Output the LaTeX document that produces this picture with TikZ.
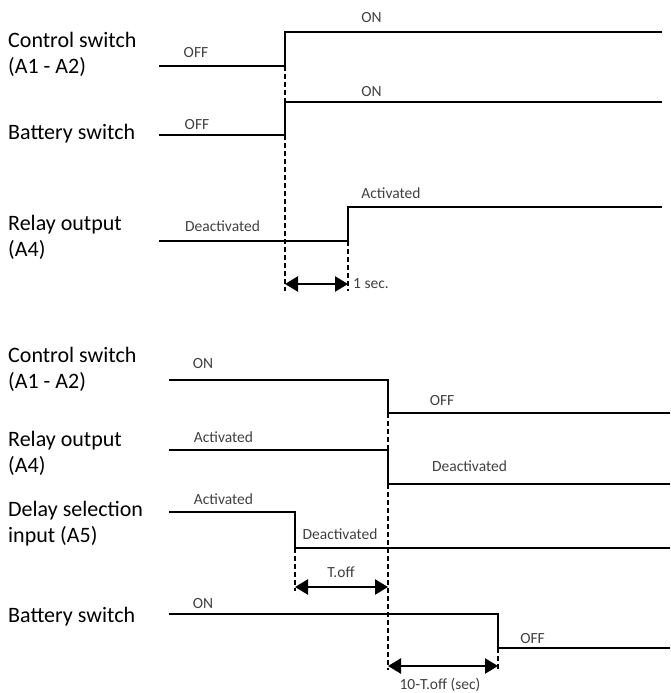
\documentclass[tikz,border=0pt]{standalone}
\usepackage{fontspec}
\setmainfont{Carlito}
\usetikzlibrary{arrows.meta}

\tikzset{
	wave/.style={line width=2.8pt},
	guide/.style={line width=1.6pt,dash pattern=on 5pt off 3pt},
	span/.style={line width=2.4pt,{Triangle[length=13pt,width=15pt]}-{Triangle[length=13pt,width=15pt]}},
	sig/.style={anchor=west,align=left,inner sep=0pt,font=\fontsize{22}{26}\selectfont},
	state/.style={inner sep=0pt,text height=10pt,text depth=0pt,text=black!75,font=\fontsize{15.5}{17}\selectfont}
}

\begin{document}
\begin{tikzpicture}[x=1pt,y=-1pt]
	\useasboundingbox (0,0) rectangle (670,693);

	\node[sig] (cs1) at (8,54) {Control switch\\(A1 - A2)};
	\node[sig] (bs1) at (8,134) {Battery switch};
	\node[sig] (ro1) at (8,237) {Relay output\\(A4)};

	\draw[wave] (159,66) -- (285,66) -- (285,32) -- (662,32);
	\draw[wave] (159,135) -- (285,135) -- (285,102) -- (662,102);
	\draw[wave] (159,241) -- (348,241) -- (348,207) -- (662,207);
	\draw[guide] (285,66) -- (285,102);
	\draw[guide] (285,135) -- (285,291);
	\draw[guide] (348,241) -- (348,291);

	\node[state] (on1) at (371.5,18) {ON};
	\node[state] (off1) at (196,52.5) {OFF};
	\node[state] (on2) at (371.5,91) {ON};
	\node[state] (off2) at (197,124.5) {OFF};
	\node[state] (act1) at (391,193) {Activated};
	\node[state] (deact1) at (222.5,226.5) {Deactivated};

	\coordinate (s1a) at (285,284);
	\coordinate (s1b) at (348,284);
	\draw[span] (s1a) -- (s1b);
	\node[state,anchor=west] (sec1) at (353,283) {1 sec.};

	\node[sig] (cs2) at (8,369) {Control switch\\(A1 - A2)};
	\node[sig] (ro2) at (8,453) {Relay output\\(A4)};
	\node[sig] (ds2) at (8,524) {Delay selection\\input (A5)};
	\node[sig] (bs2) at (8,617) {Battery switch};

	\draw[wave] (169,380) -- (388,380) -- (388,413) -- (670,413);
	\draw[wave] (169,450) -- (388,450) -- (388,484) -- (670,484);
	\draw[wave] (169,512) -- (295,512) -- (295,548) -- (670,548);
	\draw[wave] (169,614) -- (498,614) -- (498,648) -- (670,648);
	\draw[guide] (388,413) -- (388,450);
	\draw[guide] (388,484) -- (388,670);
	\draw[guide] (295,548) -- (295,591);
	\draw[guide] (498,648) -- (498,670);

	\node[state] (on3) at (203,363.5) {ON};
	\node[state] (off3) at (442,400.5) {OFF};
	\node[state] (act2) at (223.5,437) {Activated};
	\node[state] (deact2) at (469.5,466.5) {Deactivated};
	\node[state] (act3) at (223.5,499) {Activated};
	\node[state] (deact3) at (340,534) {Deactivated};
	\node[state] (on4) at (203,603) {ON};
	\node[state] (off4) at (532.5,638) {OFF};

	\coordinate (s2a) at (295,587);
	\coordinate (s2b) at (388,587);
	\draw[span] (s2a) -- (s2b);
	\node[state] (toff) at (341,572.5) {T.off};
	\coordinate (s3a) at (388,666);
	\coordinate (s3b) at (498,666);
	\draw[span] (s3a) -- (s3b);
	\node[state] (rest) at (440,684.5) {10-T.off (sec)};
\end{tikzpicture}
\end{document}
